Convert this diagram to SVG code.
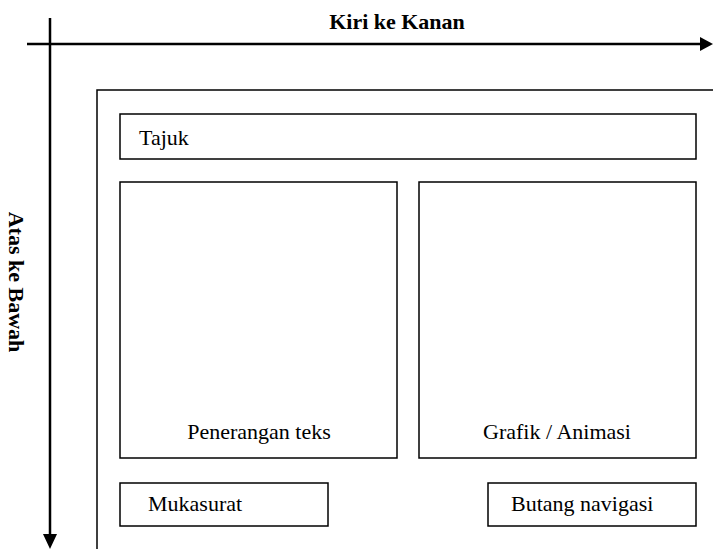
<svg xmlns="http://www.w3.org/2000/svg" width="713" height="549" viewBox="0 0 713 549">
<style>
.box{fill:#fff;stroke:#000;stroke-width:1.5}
.lbl{font-size:22px;fill:#000}
.ttl{font-size:22px;font-weight:bold;fill:#000}
.ax{stroke:#000;stroke-width:2.5;fill:none}
</style>
<rect width="713" height="549" fill="#fff"/>
<g id="connectors">
<line class="ax" x1="27" y1="44" x2="702" y2="44"/>
<path d="M700,37 L713,44 L700,51 Z" fill="#000"/>
<line class="ax" x1="50" y1="18" x2="50" y2="536"/>
<path d="M43,534 L50,549 L57,534 Z" fill="#000"/>
</g>
<g id="axis-labels" font-family="'Liberation Serif', 'Times New Roman', Tinos, 'DejaVu Serif', serif">
<text class="ttl" x="397" y="29" text-anchor="middle">Kiri ke Kanan</text>
<text class="ttl" transform="translate(9,282) rotate(90)" text-anchor="middle">Atas ke Bawah</text>
</g>
<g id="page">
<path d="M97,549 L97,90 L713,90" class="box" fill="none"/>
</g>
<g font-family="'Liberation Serif', 'Times New Roman', Tinos, 'DejaVu Serif', serif">
<g id="tajuk">
<rect class="box" x="120" y="114" width="576" height="45"/>
<text class="lbl" x="139" y="145">Tajuk</text>
</g>
<g id="penerangan">
<rect class="box" x="120" y="182" width="277" height="276"/>
<text class="lbl" x="259" y="439" text-anchor="middle">Penerangan teks</text>
</g>
<g id="grafik">
<rect class="box" x="419" y="182" width="277" height="276"/>
<text class="lbl" x="557" y="439" text-anchor="middle">Grafik / Animasi</text>
</g>
<g id="mukasurat">
<rect class="box" x="120" y="483" width="208" height="43"/>
<text class="lbl" x="148" y="511">Mukasurat</text>
</g>
<g id="butang">
<rect class="box" x="488" y="483" width="208" height="43"/>
<text class="lbl" x="511" y="511">Butang navigasi</text>
</g>
</g>
</svg>
